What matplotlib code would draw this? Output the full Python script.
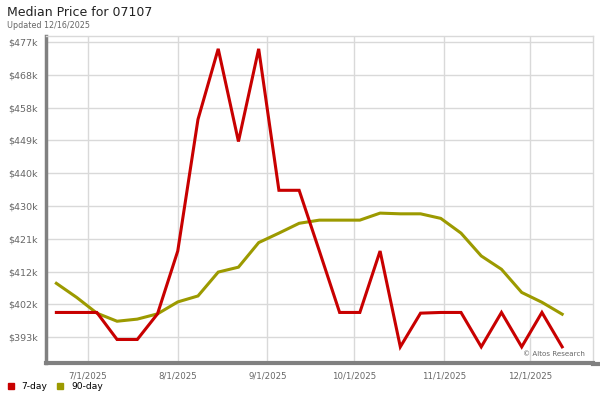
import numpy as np
import pandas as pd
import matplotlib
matplotlib.use('Agg')
import matplotlib.pyplot as plt
import matplotlib.dates as mdates
from matplotlib.lines import Line2D

# weekly data
start_date = '2025-06-20'
n_weeks = 26
price_7day = [400.0, 400.0, 400.0, 392.3, 392.3, 399.6, 417.5, 455.0, 475.1, 448.7,
              475.1, 434.8, 434.8, 417.5, 400.0, 400.0, 417.5, 390.2, 399.8, 400.0,
              400.0, 390.2, 400.0, 390.2, 400.0, 390.2]
price_90day = [408.3, 404.3, 399.8, 397.5, 398.1, 399.6, 403.0, 404.7, 411.5, 412.9,
               419.9, 422.6, 425.4, 426.3, 426.3, 426.3, 428.3, 428.1, 428.1, 426.8,
               422.6, 416.1, 412.3, 405.7, 402.9, 399.5]
ytick_vals = [393000 + i * 9333.33 for i in range(10)]
xtick_dates = ['2025-07-01', '2025-08-01', '2025-09-01', '2025-10-01', '2025-11-01', '2025-12-01']

dates = pd.date_range(start_date, periods=n_weeks, freq='7D')
s7 = np.array(price_7day) * 1000
s90 = np.array(price_90day) * 1000

red = '#c80000'
olive = '#9c9a00'
grid_c = '#d9d9d9'
axis_c = '#808080'

fig = plt.figure(figsize=(6, 4), dpi=100)
ax = fig.add_axes([46/600, 1-363/400, (593-46)/600, (363-35.5)/400])

ax.plot(dates, s90, color=olive, linewidth=2.2, solid_joinstyle='miter', zorder=3)
ax.plot(dates, s7, color=red, linewidth=2.2, solid_joinstyle='miter', zorder=4)

ax.set_ylim(385600, 478900)
ax.set_xlim(pd.Timestamp('2025-06-16 10:00'), pd.Timestamp('2025-12-22 16:00'))

ax.set_yticks(ytick_vals)
ax.set_yticklabels(['$%dk' % round(v / 1000) for v in ytick_vals])
xt = pd.to_datetime(xtick_dates)
ax.set_xticks(xt)
ax.set_xticklabels([f'{d.month}/{d.day}/{d.year}' for d in xt])

ax.tick_params(axis='y', length=0, pad=6, labelsize=6.8, labelcolor='#666666')
ax.tick_params(axis='x', length=0, pad=6, labelsize=6.2, labelcolor='#666666')
ax.grid(True, color=grid_c, linewidth=1, zorder=0)
ax.set_axisbelow(True)

for side in ['top', 'right']:
    ax.spines[side].set_color(grid_c)
    ax.spines[side].set_linewidth(1)
ax.spines['left'].set_color(axis_c)
ax.spines['left'].set_linewidth(2.5)
ax.spines['bottom'].set_color(axis_c)
ax.spines['bottom'].set_linewidth(3)

# bottom bar runs to the edge of the picture
fig.add_artist(Line2D([593/600, 1.0], [1-363.5/400, 1-363.5/400], color=axis_c,
                      linewidth=3, transform=fig.transFigure))

fig.text(7/600, 1-12/400, 'Median Price for 07107', fontsize=9, color='#222222',
         ha='left', va='center')
fig.text(7/600, 1-25/400, 'Updated 12/16/2025', fontsize=5.8, color='#666666',
         ha='left', va='center')
ax.text(0.985, 0.027, '\u00a9 Altos Research', transform=ax.transAxes, fontsize=5.1,
        color='#666666', ha='right', va='center')

handles = [Line2D([], [], marker='s', linestyle='none', color=red, markersize=3.8),
           Line2D([], [], marker='s', linestyle='none', color=olive, markersize=3.8)]
fig.legend(handles, ['7-day', '90-day'], loc='center left', bbox_to_anchor=(7.2/600, 1-386.5/400),
           ncol=2, frameon=False, fontsize=6.6, handlelength=0.8, handletextpad=0.78,
           columnspacing=0.97, borderaxespad=0, borderpad=0)

fig.savefig('out.png', dpi=100)
